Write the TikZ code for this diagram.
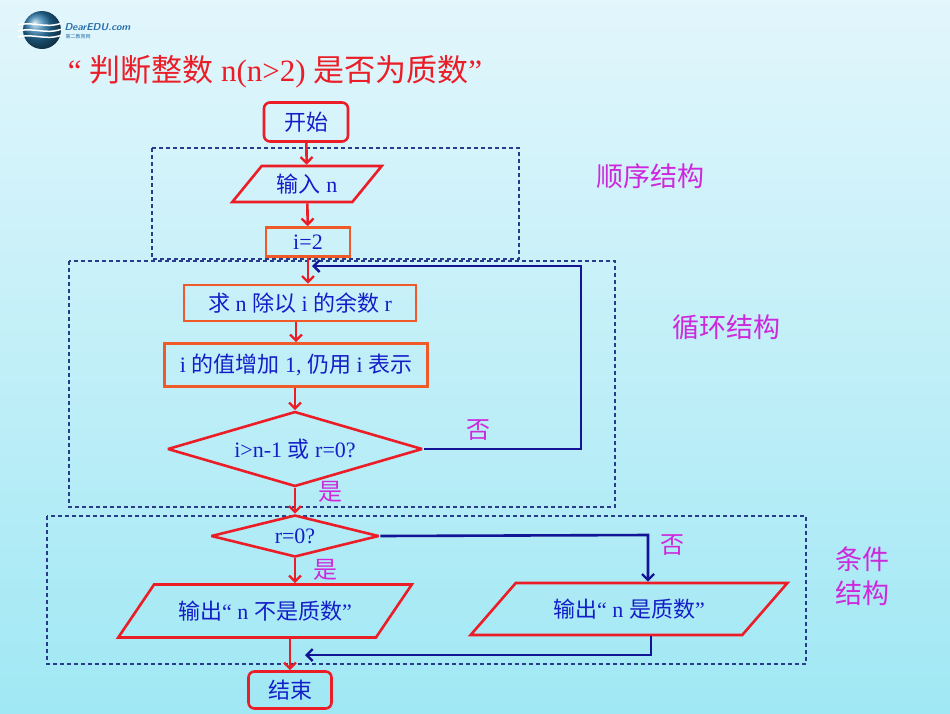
\documentclass[tikz,border=0pt]{standalone}
\usepackage{fontspec}
\setmainfont{Liberation Serif}
\newfontfamily\cjk{Noto Sans CJK SC}
\usetikzlibrary{shapes.geometric,arrows.meta}
\definecolor{fred}{RGB}{235,30,40}
\definecolor{fblue}{RGB}{20,30,200}
\definecolor{navy}{RGB}{20,20,150}
\definecolor{mag}{RGB}{205,40,220}
\definecolor{dash}{RGB}{40,60,140}
\begin{document}
\begin{tikzpicture}[x=1pt,y=-1pt,
  box/.style={draw=fred,line width=2.6pt,text=fblue,font=\fontsize{22}{23}\selectfont,inner sep=0pt},
  rbox/.style={box,rounded corners=6pt},
  obox/.style={box,draw={rgb,255:red,240;green,90;blue,40}},
  para/.style={box,trapezium,trapezium stretches=true},
  dia/.style={box,diamond,miter limit=3},
  region/.style={draw=dash,line width=1.1pt,dash pattern=on 4pt off 3pt},
  lab/.style={text=mag,font=\cjk\fontsize{27}{28}\selectfont},
  small/.style={text=mag,font=\cjk\fontsize{24}{25}\selectfont},
  rarr/.style={draw=fred,line width=2.6pt,-{Straight Barb[length=6pt,width=12pt,line width=2.4pt]}},
  barr/.style={draw=navy,line width=2.6pt,-{Straight Barb[length=6pt,width=12pt,line width=2.4pt]}}]
\path[top color={rgb,255:red,226;green,246;blue,252},bottom color={rgb,255:red,160;green,232;blue,244}] (0,0) rectangle (950,713);
\useasboundingbox (0,0) rectangle (950,713);
% logo
\shade[ball color={rgb,255:red,40;green,120;blue,170}] (42,30) circle (19);
\foreach \yy in {25,31,37}{\draw[white,line width=1.5pt] (18,\yy) .. controls (35,\yy-4) and (45,\yy+4) .. (62,\yy-2);}
\node[anchor=west,font=\sffamily\bfseries\itshape\fontsize{10}{10}\selectfont,text={rgb,255:red,40;green,110;blue,170}] (logo) at (61,27) {DearEDU.com};
\node[anchor=west,font=\cjk\fontsize{5}{5}\selectfont,text={rgb,255:red,40;green,110;blue,170}] (logo2) at (62,37) {第二教育网};
\node[text=fred,font=\fontsize{31}{33}\selectfont] (title) at (275,72) {“ {\cjk 判断整数} n(n>2) {\cjk 是否为质数}”};
% regions
\draw[region] (152,148) rectangle (519,259);
\draw[region] (69,261) rectangle (615,507);
\draw[region] (47,516) rectangle (806,664);
\node[lab] (l1) at (650,176) {顺序结构};
\node[lab] (l2) at (726,327) {循环结构};
\node[lab,align=center,font=\cjk\fontsize{27}{34}\selectfont] (l3) at (862,576) {条件\\结构};
% nodes
\node[rbox,minimum width=84,minimum height=39] (start) at (306,122) {\cjk 开始};
\node[para,trapezium left angle=46,trapezium right angle=134,minimum width=150,minimum height=36] (in) at (307,184) {{\cjk 输入} n};
\node[obox,minimum width=84,minimum height=29] (i2) at (308,242) {i=2};
\node[obox,minimum width=232,minimum height=36] (rem) at (300,303) {{\cjk 求} n {\cjk 除以} i {\cjk 的余数} r};
\node[obox,minimum width=263,minimum height=43] (inc) at (296,365) {i {\cjk 的值增加} 1, {\cjk 仍用} i {\cjk 表示}};
\node[dia,aspect=3.4,minimum width=255,minimum height=75] (d1) at (295,449) {i>n-1 {\cjk 或} r=0?};
\node[dia,aspect=4,minimum width=168,minimum height=42] (d2) at (295,536) {r=0?};
\node[para,trapezium left angle=36,trapezium right angle=144,minimum width=294,minimum height=53] (o1) at (265,611) {{\cjk 输出}“ n {\cjk 不是质数}”};
\node[para,trapezium left angle=34,trapezium right angle=146,minimum width=317,minimum height=52] (o2) at (629,609) {{\cjk 输出}“ n {\cjk 是质数}”};
\node[rbox,minimum width=83,minimum height=37] (end) at (290,690) {\cjk 结束};
% connectors
\draw[rarr] (start) -- (in);
\draw[rarr] (in) -- (i2);
\draw[rarr] (i2.south) -- (i2.south |- rem.north);
\draw[rarr] (rem.south -| inc.north) -- (inc.north);
\draw[rarr] (inc.south -| d1.north) -- (d1.north);
\draw[rarr] (d1.south) -- (d2.north);
\draw[rarr] (d2.south) -- (d2.south |- o1.north);
\draw[rarr] (end.north |- o1.south) -- (end.north);
\coordinate (lp) at (581,449);
\coordinate (lq) at (312,266);
\draw[barr] (d1.east) -- (lp) |- (lq);
\coordinate (rt) at (648,535);
\draw[barr] (d2.east) -- (rt) -- (rt |- o2.north);
\coordinate (rb) at (651,655);
\coordinate (rj) at (305,655);
\draw[barr] (rb |- o2.south) -- (rb) -- (rj);
\node[small] (no1) at (478,430) {否};
\node[small] (yes1) at (330,492) {是};
\node[small] (no2) at (672,545) {否};
\node[small] (yes2) at (325,570) {是};
\end{tikzpicture}
\end{document}
